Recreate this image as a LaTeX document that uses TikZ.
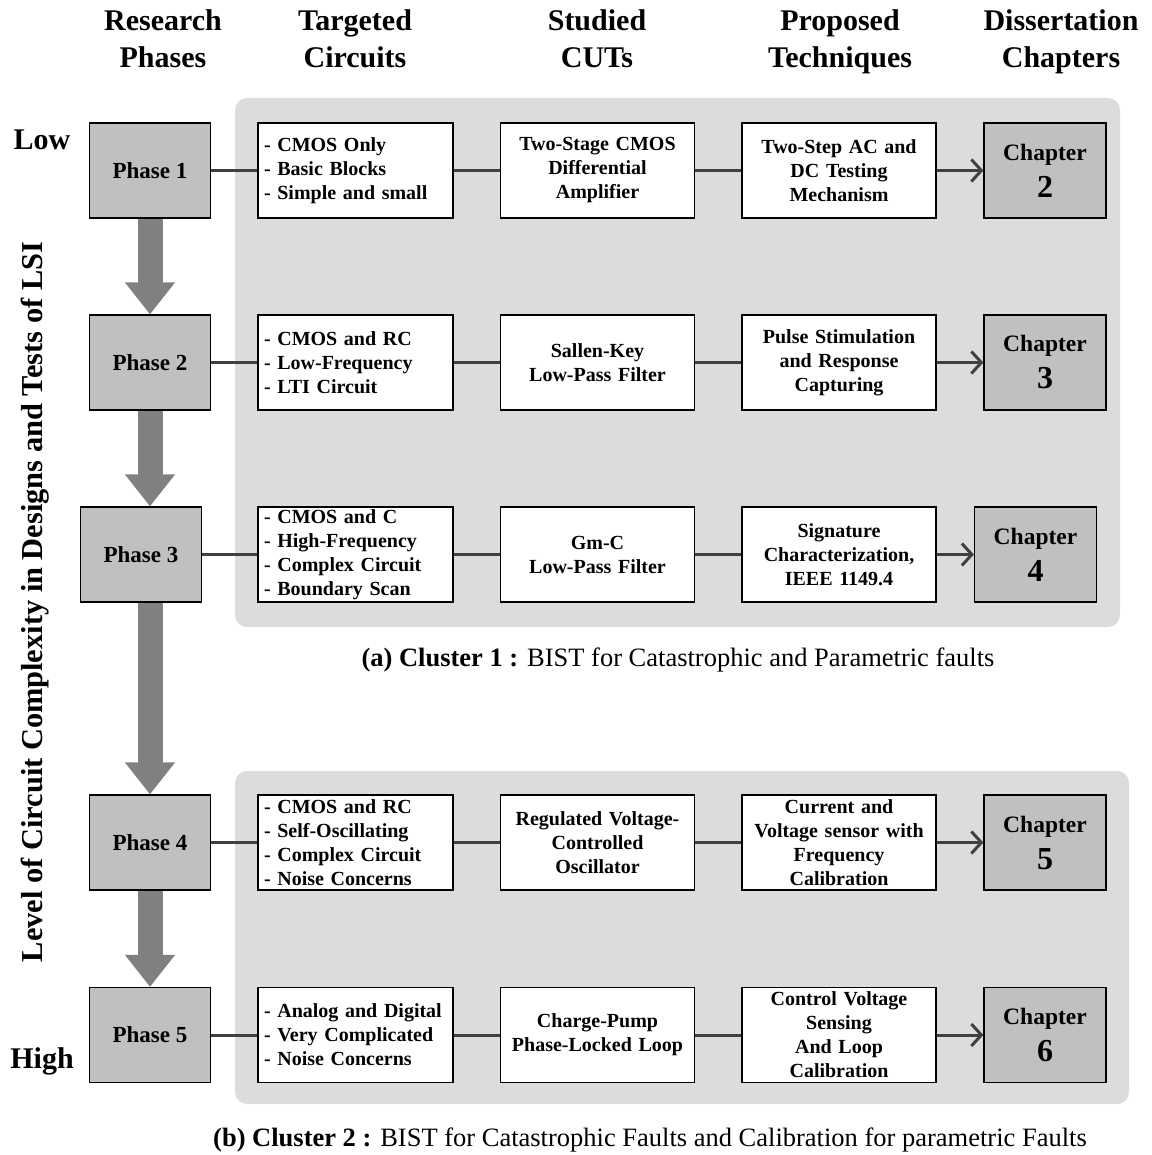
\documentclass[tikz,border=0pt]{standalone}
\usepackage{fontspec}
\setmainfont{Liberation Serif}
\usetikzlibrary{arrows.meta}
\definecolor{bggray}{HTML}{DCDCDC}
\definecolor{boxgray}{HTML}{C0C0C0}
\definecolor{arrgray}{HTML}{808080}
\definecolor{linegray}{HTML}{404040}
\tikzset{
  phasebox/.style={draw=black, line width=1.2pt, fill=boxgray, minimum width=121pt, minimum height=95pt,
    inner sep=0pt, font=\fontsize{23}{28}\selectfont\bfseries},
  listbox/.style={draw=black, line width=1.2pt, fill=white, minimum width=195pt, minimum height=95pt,
    text width=183pt, inner xsep=6pt, inner ysep=0pt, align=left, font=\fontsize{20}{24}\selectfont\bfseries},
  techbox/.style={draw=black, line width=1.2pt, fill=white, minimum width=194pt, minimum height=95pt,
    text width=186pt, inner xsep=4pt, inner ysep=0pt, align=center, font=\fontsize{20}{24}\selectfont\bfseries},
  chapbox/.style={draw=black, line width=1.2pt, fill=boxgray, minimum width=122pt, minimum height=95pt,
    inner sep=0pt, align=center, font=\fontsize{23.5}{28}\selectfont\bfseries},
  cluster/.style={fill=bggray, rounded corners=12pt},
  link/.style={draw=linegray, line width=3pt},
  tochap/.style={link, -{Straight Barb[length=10pt, width=22pt]}},
  phasearrow/.style={draw=arrgray, line width=25pt, -{Triangle[length=32pt, width=48pt]}},
  heading/.style={align=center, anchor=north, inner sep=0pt, font=\fontsize{30}{37}\selectfont\bfseries},
  sidetext/.style={font=\fontsize{30}{37}\selectfont\bfseries},
  caption/.style={font=\fontsize{26.5}{30}\selectfont},
}
\newcommand{\chapnum}[1]{Chapter\\[9pt]{\fontsize{32}{36}\selectfont #1}}
\newcommand{\twolines}[2]{#1\strut\\#2\strut}

\begin{document}
\begin{tikzpicture}[x=1pt, y=-1pt]
  \useasboundingbox (0,0) rectangle (1151,1155);

  % column headings
  \node[heading] (hphase) at (163,4) {\twolines{Research}{Phases}};
  \node[heading] (hcirc) at (355,4) {\twolines{Targeted}{Circuits}};
  \node[heading] (hcut) at (597,4) {\twolines{Studied}{CUTs}};
  \node[heading] (htech) at (840,4) {\twolines{Proposed}{Techniques}};
  \node[heading] (hchap) at (1061,4) {\twolines{Dissertation}{Chapters}};

  \node[sidetext, anchor=base] (low) at (42,150) {Low};
  \node[sidetext, anchor=base] (high) at (42,1068) {High};
  \node[sidetext, font=\fontsize{30.4}{37}\selectfont\bfseries, rotate=90] (level) at (35,602)
    {Level of Circuit Complexity in Designs and Tests of LSI};

  % clusters
  \fill[cluster] (235,98) rectangle (1120,627);
  \fill[cluster] (235,771) rectangle (1129,1104);

  % phases
  \node[phasebox] (ph1) at (150,170.5) {Phase 1};
  \node[phasebox] (ph2) at (150,362.5) {Phase 2};
  \node[phasebox] (ph3) at (141,554.5) {Phase 3};
  \node[phasebox] (ph4) at (150,842.5) {Phase 4};
  \node[phasebox] (ph5) at (150,1035) {Phase 5};

  \draw[phasearrow] (ph1.south) -- (ph2.north);
  \draw[phasearrow] (ph2.south) -- (ph2.south |- ph3.north);
  \draw[phasearrow] (ph4.north |- ph3.south) -- (ph4.north);
  \draw[phasearrow] (ph4.south) -- (ph5.north);

  % row 1
  \node[listbox] (tc1) at (355.5,170.5) {- CMOS Only\\- Basic Blocks\\- Simple and small};
  \node[techbox] (cut1) at (597.5,170.5) {Two-Stage CMOS\\Differential\\Amplifier};
  \node[techbox] (tech1) at (839,170.5) {Two-Step AC and\\DC Testing\\Mechanism};
  \node[chapbox] (ch1) at (1045,170.5) {\chapnum{2}};

  % row 2
  \node[listbox] (tc2) at (355.5,362.5) {- CMOS and RC\\- Low-Frequency\\- LTI Circuit};
  \node[techbox] (cut2) at (597.5,362.5) {Sallen-Key\\Low-Pass Filter};
  \node[techbox] (tech2) at (839,362.5) {Pulse Stimulation\\and Response\\Capturing};
  \node[chapbox] (ch2) at (1045,362.5) {\chapnum{3}};

  % row 3
  \node[listbox] (tc3) at (355.5,554.5) {- CMOS and C\\- High-Frequency\\- Complex Circuit\\- Boundary Scan};
  \node[techbox] (cut3) at (597.5,554.5) {Gm-C\\Low-Pass Filter};
  \node[techbox] (tech3) at (839,554.5) {Signature\\Characterization,\\IEEE 1149.4};
  \node[chapbox] (ch3) at (1035.5,554.5) {\chapnum{4}};

  % row 4
  \node[listbox] (tc4) at (355.5,842.5) {- CMOS and RC\\- Self-Oscillating\\- Complex Circuit\\- Noise Concerns};
  \node[techbox] (cut4) at (597.5,842.5) {Regulated Voltage-\\Controlled\\Oscillator};
  \node[techbox] (tech4) at (839,842.5) {Current and\\Voltage sensor with\\Frequency\\Calibration};
  \node[chapbox] (ch4) at (1045,842.5) {\chapnum{5}};

  % row 5
  \node[listbox] (tc5) at (355.5,1035) {- Analog and Digital\\- Very Complicated\\- Noise Concerns};
  \node[techbox] (cut5) at (597.5,1035) {Charge-Pump\\Phase-Locked Loop};
  \node[techbox] (tech5) at (839,1035) {Control Voltage\\Sensing\\And Loop\\Calibration};
  \node[chapbox] (ch5) at (1045,1035) {\chapnum{6}};

  % links
  \draw[link] (ph1) -- (tc1);  \draw[link] (tc1) -- (cut1);  \draw[link] (cut1) -- (tech1);  \draw[tochap] (tech1) -- (ch1);
  \draw[link] (ph2) -- (tc2);  \draw[link] (tc2) -- (cut2);  \draw[link] (cut2) -- (tech2);  \draw[tochap] (tech2) -- (ch2);
  \draw[link] (ph3) -- (tc3);  \draw[link] (tc3) -- (cut3);  \draw[link] (cut3) -- (tech3);  \draw[tochap] (tech3) -- (ch3);
  \draw[link] (ph4) -- (tc4);  \draw[link] (tc4) -- (cut4);  \draw[link] (cut4) -- (tech4);  \draw[tochap] (tech4) -- (ch4);
  \draw[link] (ph5) -- (tc5);  \draw[link] (tc5) -- (cut5);  \draw[link] (cut5) -- (tech5);  \draw[tochap] (tech5) -- (ch5);

  % captions
  \node[caption] (capa) at (678,660) {\textbf{(a) Cluster 1 :} BIST for Catastrophic and Parametric faults};
  \node[caption] (capb) at (650,1140) {\textbf{(b) Cluster 2 :} BIST for Catastrophic Faults and Calibration for parametric Faults};
\end{tikzpicture}
\end{document}
